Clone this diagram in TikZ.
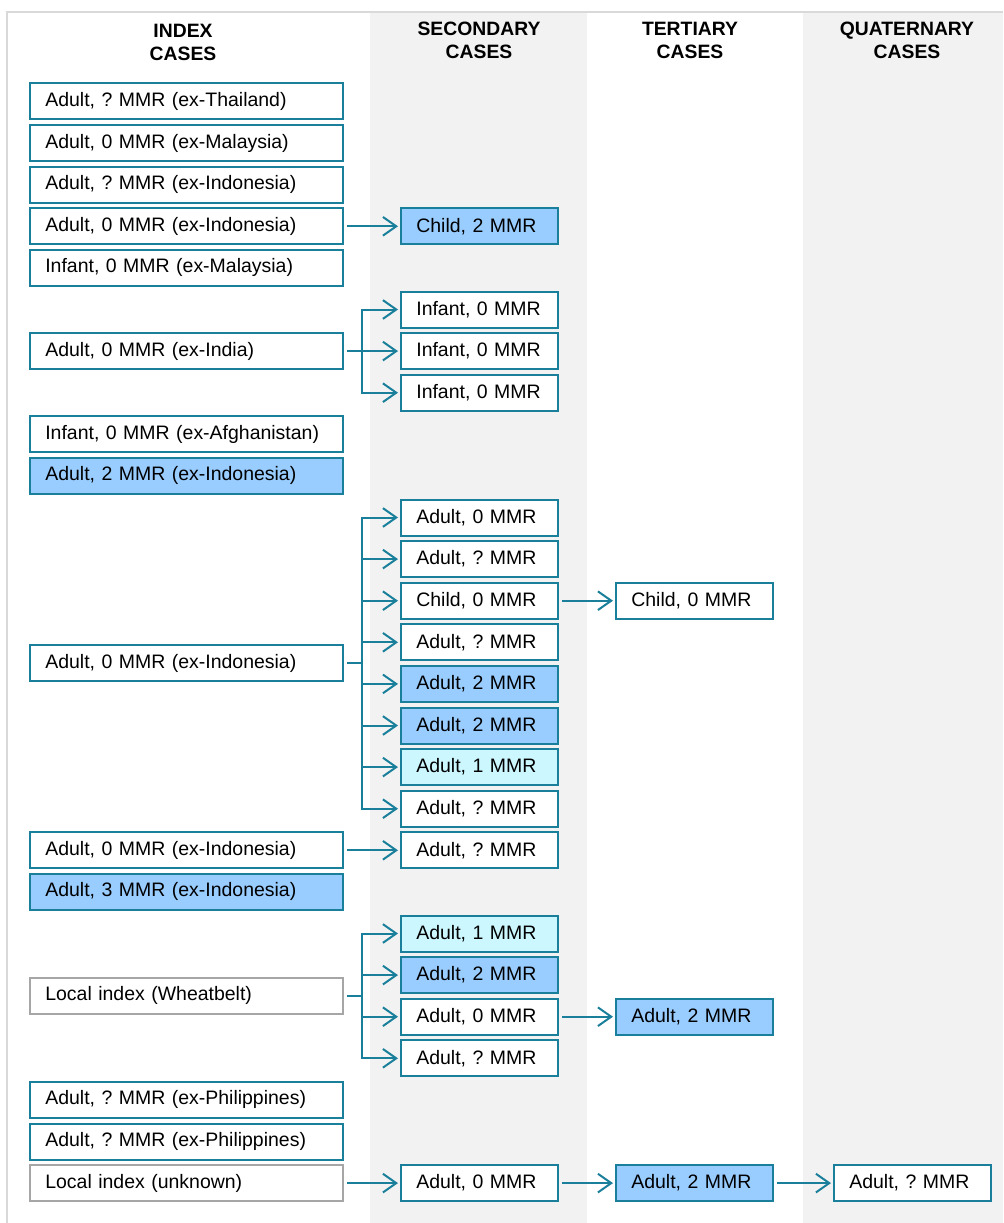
\documentclass[tikz,border=0pt]{standalone}
\usepackage{fontspec}
\setmainfont{Liberation Sans}
\frenchspacing
\usetikzlibrary{arrows.meta}
\definecolor{linkcol}{HTML}{1A7F9B}
\definecolor{blueFill}{HTML}{99CCFF}
\definecolor{cyanFill}{HTML}{CCF7FF}
\definecolor{colGray}{HTML}{F2F2F2}
\definecolor{frameGray}{HTML}{D9D9D9}
\definecolor{localGray}{HTML}{A6A6A6}

\begin{document}
\begin{tikzpicture}[x=0.75pt,y=-0.75pt,
    case/.style={draw=linkcol, fill=white, line width=1.5pt, anchor=west, align=left,
        inner xsep=11.5pt, inner ysep=0pt, minimum height=27pt,
        font=\fontsize{14.6pt}{17pt}\selectfont},
    idxbox/.style={case, text width=211.75pt},
    subbox/.style={case, text width=94.75pt},
    blue/.style={fill=blueFill},
    cyan/.style={fill=cyanFill},
    local/.style={draw=localGray},
    head/.style={align=center, font=\fontsize{14.5pt}{17.25pt}\selectfont\bfseries},
    link/.style={draw=linkcol, line width=1.5pt, shorten >=1.5pt,
        -{Straight Barb[length=10pt,width=14pt]}}]
        \useasboundingbox (0,0) rectangle (1003,1223);
        % 背景
        \fill[colGray] (370,13) rectangle (587,1223);
        \fill[colGray] (803,13) rectangle (1003,1223);
        \draw[frameGray, line width=1.5pt] (7,1223) -- (7,12) -- (1003,12);
        % 見出し
        \node[head] (hIdx) at (183,42.5) {INDEX\\CASES};
        \node[head] (hSec) at (479,40.5) {SECONDARY\\CASES};
        \node[head] (hTer) at (690,40.5) {TERTIARY\\CASES};
        \node[head] (hQua) at (907,40) {QUATERNARY\\CASES};
        % index cases
        \node[idxbox] (idx0) at (29,101.5) {Adult, ? MMR (ex-Thailand)};
        \node[idxbox] (idx1) at (29,143.1) {Adult, 0 MMR (ex-Malaysia)};
        \node[idxbox] (idx2) at (29,184.7) {Adult, ? MMR (ex-Indonesia)};
        \node[idxbox] (idx3) at (29,226.3) {Adult, 0 MMR (ex-Indonesia)};
        \node[idxbox] (idx4) at (29,267.9) {Infant, 0 MMR (ex-Malaysia)};
        \node[idxbox] (idx6) at (29,351.1) {Adult, 0 MMR (ex-India)};
        \node[idxbox] (idx8) at (29,434.3) {Infant, 0 MMR (ex-Afghanistan)};
        \node[idxbox,blue] (idx9) at (29,475.9) {Adult, 2 MMR (ex-Indonesia)};
        \node[idxbox] (idx13) at (29,663.1) {Adult, 0 MMR (ex-Indonesia)};
        \node[idxbox] (idx18) at (29,850.3) {Adult, 0 MMR (ex-Indonesia)};
        \node[idxbox,blue] (idx19) at (29,891.9) {Adult, 3 MMR (ex-Indonesia)};
        \node[idxbox,local] (idx21) at (29,995.9) {Local index (Wheatbelt)};
        \node[idxbox] (idx24) at (29,1099.9) {Adult, ? MMR (ex-Philippines)};
        \node[idxbox] (idx25) at (29,1141.5) {Adult, ? MMR (ex-Philippines)};
        \node[idxbox,local] (idx26) at (29,1183.1) {Local index (unknown)};
        % secondary cases
        \node[subbox,blue] (sec3) at (400,226.3) {Child, 2 MMR};
        \node[subbox] (sec5) at (400,309.5) {Infant, 0 MMR};
        \node[subbox] (sec6) at (400,351.1) {Infant, 0 MMR};
        \node[subbox] (sec7) at (400,392.7) {Infant, 0 MMR};
        \node[subbox] (sec10) at (400,517.5) {Adult, 0 MMR};
        \node[subbox] (sec11) at (400,559.1) {Adult, ? MMR};
        \node[subbox] (sec12) at (400,600.7) {Child, 0 MMR};
        \node[subbox] (sec13) at (400,642.3) {Adult, ? MMR};
        \node[subbox,blue] (sec14) at (400,683.9) {Adult, 2 MMR};
        \node[subbox,blue] (sec15) at (400,725.5) {Adult, 2 MMR};
        \node[subbox,cyan] (sec16) at (400,767.1) {Adult, 1 MMR};
        \node[subbox] (sec17) at (400,808.7) {Adult, ? MMR};
        \node[subbox] (sec18) at (400,850.3) {Adult, ? MMR};
        \node[subbox,cyan] (sec20) at (400,933.5) {Adult, 1 MMR};
        \node[subbox,blue] (sec21) at (400,975.1) {Adult, 2 MMR};
        \node[subbox] (sec22) at (400,1016.7) {Adult, 0 MMR};
        \node[subbox] (sec23) at (400,1058.3) {Adult, ? MMR};
        \node[subbox] (sec26) at (400,1183.1) {Adult, 0 MMR};
        % tertiary / quaternary
        \node[subbox] (ter12) at (615,600.7) {Child, 0 MMR};
        \node[subbox,blue] (ter22) at (615,1016.7) {Adult, 2 MMR};
        \node[subbox,blue] (ter26) at (615,1183.1) {Adult, 2 MMR};
        \node[subbox] (qua26) at (833,1183.1) {Adult, ? MMR};
        % 感染経路
        \draw[link] ([xshift=2.25pt]idx3.east) -- (sec3.west);
        \foreach \s in {sec5,sec6,sec7}
            \draw[link] ([xshift=2.25pt]idx6.east) -- ++(15,0) |- (\s.west);
        \foreach \s in {sec10,sec11,sec12,sec13,sec14,sec15,sec16,sec17}
            \draw[link] ([xshift=2.25pt]idx13.east) -- ++(15,0) |- (\s.west);
        \draw[link] ([xshift=2.25pt]idx18.east) -- (sec18.west);
        \foreach \s in {sec20,sec21,sec22,sec23}
            \draw[link] ([xshift=2.25pt]idx21.east) -- ++(15,0) |- (\s.west);
        \draw[link] ([xshift=2.25pt]idx26.east) -- (sec26.west);
        \draw[link] ([xshift=2.25pt]sec12.east) -- (ter12.west);
        \draw[link] ([xshift=2.25pt]sec22.east) -- (ter22.west);
        \draw[link] ([xshift=2.25pt]sec26.east) -- (ter26.west);
        \draw[link] ([xshift=2.25pt]ter26.east) -- (qua26.west);
    \end{tikzpicture}
\end{document}
